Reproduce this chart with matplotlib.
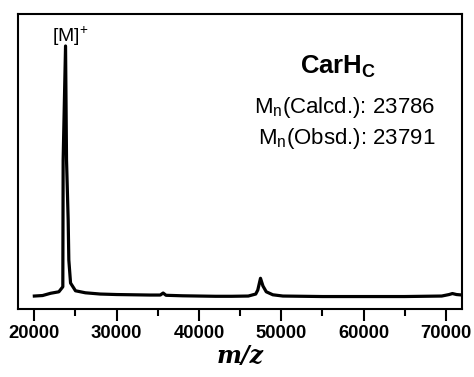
import numpy as np
from matplotlib import pyplot as plt
from matplotlib.ticker import MultipleLocator

plt.rcParams['font.family'] = ['Liberation Sans', 'DejaVu Sans']

# MALDI spectrum of CarH_C (relative intensity, main peak = 1)
mz = [20000, 21000, 21970, 22980, 23460, 23500, 23791, 23910, 24110, 24190,
      24400, 25000, 26200, 28000, 30000, 32000, 34000, 35300, 35650, 36000,
      38000, 40000, 42000, 44000, 46000, 46900, 47150, 47480, 47780, 48180,
      48980, 50200, 55000, 60000, 65000, 69500, 70400, 70800, 71300, 72000]
intensity = [0.000, 0.002, 0.011, 0.017, 0.037, 0.544, 1.000, 0.544, 0.304, 0.144,
             0.052, 0.021, 0.013, 0.008, 0.006, 0.005, 0.004, 0.004, 0.012, 0.003,
             0.001, 0.000, -0.001, -0.001, 0.000, 0.008, 0.024, 0.071, 0.040, 0.017,
             0.005, 0.000, -0.002, -0.002, -0.002, 0.000, 0.006, 0.010, 0.006, 0.004]

sample = 'CarH$_\\mathregular{C}$'
mn_calcd = 23786
mn_obsd = 23791

fig = plt.figure(figsize=(4.74, 3.77), dpi=100)
ax = fig.add_axes([0.0386, 0.1796, 0.9367, 0.7833])

ax.plot(mz, intensity, color='black', lw=2.3, solid_joinstyle='round')

ax.set_xlim(18050, 72000)
ax.set_ylim(-0.053, 1.128)
ax.set_yticks([])
ax.xaxis.set_major_locator(MultipleLocator(10000))
ax.xaxis.set_minor_locator(MultipleLocator(5000))
ax.tick_params(axis='x', which='major', direction='out', length=8.4, width=1.5,
               labelsize=13.3, pad=3)
ax.tick_params(axis='x', which='minor', direction='out', length=4.8, width=1.5)
for lab in ax.get_xticklabels():
    lab.set_fontweight('bold')
for sp in ax.spines.values():
    sp.set_linewidth(1.5)

ax.set_xlabel('m/z', family='DejaVu Serif', style='italic', fontweight='bold',
              fontsize=17, labelpad=1)

# peak label and sample info
ax.text(0.1176, 0.906, '[M]$^\\mathregular{+}$', transform=ax.transAxes,
        ha='center', va='baseline', fontsize=14)
ax.text(0.720, 0.799, sample, transform=ax.transAxes, ha='center', va='baseline',
        fontsize=18.5, fontweight='bold')
ax.text(0.9385, 0.666, 'M$_\\mathregular{n}$(Calcd.): %d' % mn_calcd,
        transform=ax.transAxes, ha='right', va='baseline', fontsize=16)
ax.text(0.9385, 0.560, 'M$_\\mathregular{n}$(Obsd.): %d' % mn_obsd,
        transform=ax.transAxes, ha='right', va='baseline', fontsize=16)

plt.savefig('out.png', dpi=100)
